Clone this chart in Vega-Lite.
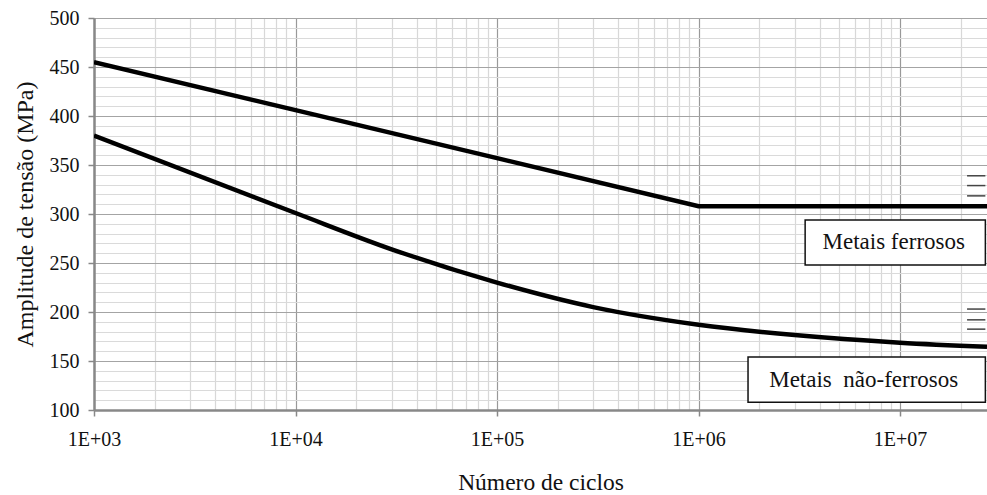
{
  "$schema": "https://vega.github.io/schema/vega-lite/v6.json",
  "autosize": "none",
  "width": 893,
  "height": 392,
  "padding": {"left": 94, "top": 18, "right": 0, "bottom": 85},
  "background": "white",
  "config": {
    "font": "Liberation Serif",
    "view": {"stroke": null},
    "axis": {"labelOverlap": false, "labelFlush": false, "labelBound": false}
  },
  "datasets": {
    "curves": [
      {"serie": "ferrosos", "n": 1000, "s": 455},
      {"serie": "ferrosos", "n": 10000, "s": 406},
      {"serie": "ferrosos", "n": 100000, "s": 357},
      {"serie": "ferrosos", "n": 1000000, "s": 308},
      {"serie": "ferrosos", "n": 27000000, "s": 308},
      {"serie": "nao", "n": 1000, "s": 380},
      {"serie": "nao", "n": 10000, "s": 301},
      {"serie": "nao", "n": 30000, "s": 264},
      {"serie": "nao", "n": 100000, "s": 230},
      {"serie": "nao", "n": 300000, "s": 205},
      {"serie": "nao", "n": 1000000, "s": 187},
      {"serie": "nao", "n": 3000000, "s": 176.5},
      {"serie": "nao", "n": 10000000, "s": 168.7},
      {"serie": "nao", "n": 27000000, "s": 164.5}
    ],
    "boxes": [
      {"label": "Metais ferrosos", "n": 3380000, "n2": 26500000, "s": 248, "s2": 294, "tx": 9300000, "ty": 271},
      {"label": "Metais\u00a0 não-ferrosos", "n": 1760000, "n2": 26500000, "s": 108, "s2": 154, "tx": 6600000, "ty": 131}
    ],
    "marks": [
      {"n": 21500000, "n2": 26500000, "s": 339},
      {"n": 21500000, "n2": 26500000, "s": 329},
      {"n": 21500000, "n2": 26500000, "s": 318.5},
      {"n": 21500000, "n2": 26500000, "s": 203},
      {"n": 21500000, "n2": 26500000, "s": 192},
      {"n": 21500000, "n2": 26500000, "s": 182.5}
    ]
  },
  "layer": [
    {
      "data": {"name": "curves"},
      "transform": [{"filter": "datum.serie === 'ferrosos'"}],
      "mark": {"type": "line", "color": "black", "strokeWidth": 4.5, "clip": true},
      "encoding": {
        "x": {
          "field": "n", "type": "quantitative",
          "scale": {"type": "log", "domain": [1000, 27000000], "nice": false},
          "axis": {
            "title": "Número de ciclos",
            "titleFont": "Liberation Serif",
            "titleFontSize": 23.5,
            "titleFontWeight": "normal",
            "titleColor": "#111",
            "titlePadding": 21,
            "tickCount": 100,
            "values": [1000,2000,3000,4000,5000,6000,7000,8000,9000,10000,20000,30000,40000,50000,60000,70000,80000,90000,100000,200000,300000,400000,500000,600000,700000,800000,900000,1000000,2000000,3000000,4000000,5000000,6000000,7000000,8000000,9000000,10000000,20000000],
            "labelExpr": "abs(log(datum.value)/LN10 - round(log(datum.value)/LN10)) < 0.000001 ? '1E+0' + round(log(datum.value)/LN10) : ''",
            "labelFontSize": 20,
            "labelColor": "#111",
            "labelPadding": 13,
            "labelOverlap": false,
            "tickSize": 6,
            "tickColor": "#888",
            "tickWidth": 1.5,
            "tickOpacity": {"condition": {"test": "abs(log(datum.value)/LN10 - round(log(datum.value)/LN10)) < 0.000001", "value": 1}, "value": 0},
            "domainColor": "#888",
            "domainWidth": 2.5,
            "grid": true,
            "gridColor": {"condition": {"test": "abs(log(datum.value)/LN10 - round(log(datum.value)/LN10)) < 0.000001", "value": "#999999"}, "value": "#d8d8d8"},
            "gridWidth": 1.2
          }
        },
        "y": {
          "field": "s", "type": "quantitative",
          "scale": {"domain": [100, 500], "nice": false},
          "axis": {
            "title": "Amplitude de tensão (MPa)",
            "titleFont": "Liberation Serif",
            "titleFontSize": 24,
            "titleFontWeight": "normal",
            "titleColor": "#111",
            "titlePadding": 12,
            "tickCount": 100,
            "values": [100,110,120,130,140,150,160,170,180,190,200,210,220,230,240,250,260,270,280,290,300,310,320,330,340,350,360,370,380,390,400,410,420,430,440,450,460,470,480,490,500],
            "labelExpr": "datum.value % 50 === 0 ? datum.label : ''",
            "labelFontSize": 20,
            "labelColor": "#111",
            "labelPadding": 9,
            "labelOverlap": false,
            "tickSize": 6,
            "tickColor": "#888",
            "tickWidth": 1.5,
            "tickOpacity": {"condition": {"test": "datum.value % 50 === 0", "value": 1}, "value": 0},
            "domainColor": "#888",
            "domainWidth": 2.5,
            "grid": true,
            "gridColor": {"condition": {"test": "datum.value % 50 === 0", "value": "#a4a4a4"}, "value": "#dadada"},
            "gridWidth": 1.2
          }
        }
      }
    },
    {
      "data": {"name": "curves"},
      "transform": [{"filter": "datum.serie === 'nao'"}],
      "mark": {"type": "line", "color": "black", "strokeWidth": 4.5, "interpolate": "monotone", "clip": true},
      "encoding": {
        "x": {"field": "n", "type": "quantitative"},
        "y": {"field": "s", "type": "quantitative"}
      }
    },
    {
      "data": {"name": "marks"},
      "mark": {"type": "rule", "color": "#444", "strokeWidth": 1.5},
      "encoding": {
        "x": {"field": "n", "type": "quantitative"},
        "x2": {"field": "n2"},
        "y": {"field": "s", "type": "quantitative"}
      }
    },
    {
      "data": {"name": "boxes"},
      "mark": {"type": "rect", "fill": "white", "stroke": "#111", "strokeWidth": 1.5},
      "encoding": {
        "x": {"field": "n", "type": "quantitative"},
        "x2": {"field": "n2"},
        "y": {"field": "s", "type": "quantitative"},
        "y2": {"field": "s2"}
      }
    },
    {
      "data": {"name": "boxes"},
      "mark": {"type": "text", "font": "Liberation Serif", "fontSize": 23, "color": "#111", "align": "center", "baseline": "middle"},
      "encoding": {
        "x": {"field": "tx", "type": "quantitative"},
        "y": {"field": "ty", "type": "quantitative"},
        "text": {"field": "label"}
      }
    }
  ]
}
